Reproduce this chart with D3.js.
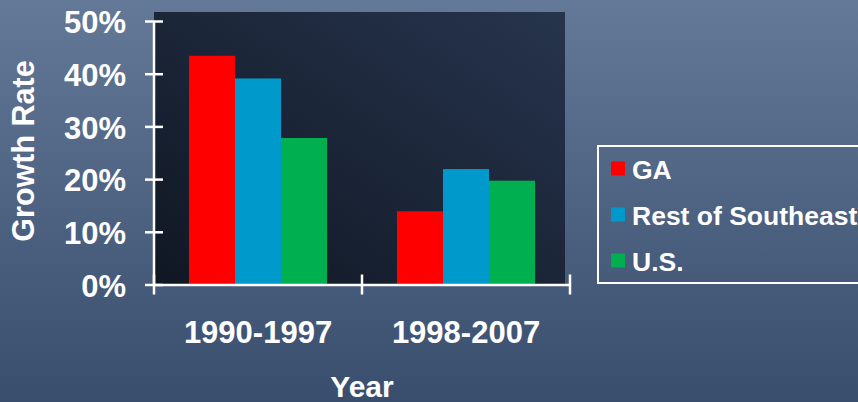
<!DOCTYPE html>
<html>
<head>
<meta charset="utf-8">
<script src="https://cdn.jsdelivr.net/npm/d3@7"></script>
<style>
  html, body { margin: 0; padding: 0; overflow: hidden; }
  svg { display: block; font-family: "Liberation Sans", Arial, sans-serif; font-weight: bold; }
</style>
</head>
<body>
<script>
// data
var periods = ["1990-1997", "1998-2007"];
var seriesNames = ["GA", "Rest of Southeast", "U.S."];
var gaValues = [0.434, 0.139];
var restValues = [0.391, 0.219];
var usValues = [0.278, 0.197];
var yTicks = [0, 0.1, 0.2, 0.3, 0.4, 0.5];
var colors = ["#ff0000", "#0099cc", "#00b050"];

var W = 858, H = 402;
var svg = d3.select("body").append("svg").attr("width", W).attr("height", H);

var defs = svg.append("defs");
var bg = defs.append("linearGradient").attr("id", "bg").attr("x1", 0).attr("y1", 0).attr("x2", 0).attr("y2", 1);
bg.append("stop").attr("offset", "0%").attr("stop-color", "#647898");
bg.append("stop").attr("offset", "100%").attr("stop-color", "#394d6d");
var pg = defs.append("linearGradient").attr("id", "plotbg").attr("x1", 0).attr("y1", 1).attr("x2", 1).attr("y2", 0);
pg.append("stop").attr("offset", "0%").attr("stop-color", "#101723");
pg.append("stop").attr("offset", "100%").attr("stop-color", "#26344d");

svg.append("rect").attr("width", W).attr("height", H).attr("fill", "url(#bg)");

// scales
var x0 = d3.scaleBand().domain(periods).range([154, 570]).padding(0);
var x1 = d3.scaleBand().domain(seriesNames).range([0, x0.bandwidth()]).paddingInner(0).paddingOuter(0.76);
var y = d3.scaleLinear().domain([0, 0.5]).range([284.5, 21]);

// plot area
svg.append("rect")
  .attr("x", 154).attr("y", 12)
  .attr("width", 411).attr("height", y(0) - 12)
  .attr("fill", "url(#plotbg)");

var rows = periods.map(function (p, i) {
  return { period: p, values: [gaValues[i], restValues[i], usValues[i]] };
});

var groups = svg.append("g").selectAll("g")
  .data(rows).enter().append("g")
  .attr("transform", function (d) { return "translate(" + x0(d.period) + ",0)"; });

groups.selectAll("rect")
  .data(function (d) { return d.values.map(function (v, j) { return { name: seriesNames[j], value: v, color: colors[j] }; }); })
  .enter().append("rect")
  .attr("x", function (d) { return x1(d.name); })
  .attr("y", function (d) { return y(d.value); })
  .attr("width", x1.bandwidth())
  .attr("height", function (d) { return y(0) - y(d.value); })
  .attr("fill", function (d) { return d.color; });

// y axis
var yAxis = svg.append("g")
  .attr("transform", "translate(154,0)")
  .call(d3.axisLeft(y).tickValues(yTicks).tickFormat(d3.format(".0%")).tickSize(9).tickPadding(19));
yAxis.select(".domain").attr("stroke", "#fff").attr("stroke-width", 2.5).attr("d", "M0," + y(0.5) + "V" + y(0));
yAxis.selectAll(".tick line").attr("stroke", "#fff").attr("stroke-width", 2.5).attr("x1", 9);
yAxis.selectAll(".tick text")
  .attr("fill", "#fff").attr("font-size", "31px").attr("font-weight", "bold")
  .attr("font-family", "Liberation Sans, Arial, sans-serif").attr("dy", "0.38em");

// x axis
var xAxis = svg.append("g")
  .attr("transform", "translate(0," + y(0) + ")")
  .call(d3.axisBottom(x0).tickSize(0).tickPadding(36));
xAxis.select(".domain").attr("stroke", "#fff").attr("stroke-width", 2.5);
xAxis.selectAll(".tick text")
  .attr("fill", "#fff").attr("font-size", "31px").attr("font-weight", "bold")
  .attr("font-family", "Liberation Sans, Arial, sans-serif");

var edges = periods.map(function (p) { return x0(p); }).concat([x0(periods[periods.length - 1]) + x0.bandwidth()]);
xAxis.selectAll("line.edge").data(edges).enter().append("line")
  .attr("class", "edge")
  .attr("x1", function (d) { return d; }).attr("x2", function (d) { return d; })
  .attr("y1", -10).attr("y2", 10)
  .attr("stroke", "#fff").attr("stroke-width", 2.5);

// axis titles
svg.append("text")
  .attr("transform", "translate(34,151) rotate(-90)")
  .attr("text-anchor", "middle")
  .attr("fill", "#fff").attr("font-size", "30.5px")
  .text("Growth Rate");

svg.append("text")
  .attr("x", 362).attr("y", 397)
  .attr("text-anchor", "middle")
  .attr("fill", "#fff").attr("font-size", "30px")
  .text("Year");

// legend
var legend = svg.append("g");
legend.append("rect")
  .attr("x", 598).attr("y", 146).attr("width", 280).attr("height", 137)
  .attr("fill", "none").attr("stroke", "#fff").attr("stroke-width", 2);

var items = legend.selectAll("g.item").data(seriesNames).enter().append("g")
  .attr("class", "item")
  .attr("transform", function (d, i) { return "translate(611," + (161.5 + i * 46) + ")"; });
items.append("rect").attr("width", 14).attr("height", 14)
  .attr("fill", function (d, i) { return colors[i]; });
items.append("text")
  .attr("x", 21).attr("y", 17)
  .attr("fill", "#fff").attr("font-size", "26.5px")
  .text(function (d) { return d; });
</script>
</body>
</html>
